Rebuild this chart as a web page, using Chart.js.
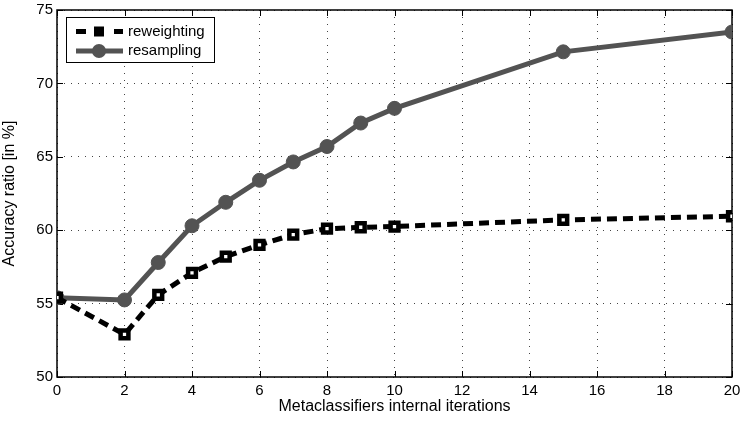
<!DOCTYPE html>
<html>
<head>
<meta charset="utf-8">
<script src="https://cdn.jsdelivr.net/npm/chart.js@4.4.1/dist/chart.umd.min.js"></script>
<style>
  html, body { margin: 0; padding: 0; background: #fff; }
  #wrap { width: 742px; height: 421px; }
</style>
</head>
<body>
<div id="wrap"><canvas id="c" width="742" height="421"></canvas></div>
<script>
const iterations = [0, 2, 3, 4, 5, 6, 7, 8, 9, 10, 15, 20];
const reweighting = [55.4, 52.9, 55.6, 57.1, 58.2, 59.0, 59.7, 60.1, 60.2, 60.25, 60.7, 60.95];
const resampling  = [55.4, 55.25, 57.8, 60.3, 61.9, 63.4, 64.65, 65.7, 67.3, 68.3, 72.15, 73.5];
const xTicks = [0, 2, 4, 6, 8, 10, 12, 14, 16, 18, 20];
const yTicks = [50, 55, 60, 65, 70, 75];
const seriesNames = ['reweighting', 'resampling'];
const xTitle = 'Metaclassifiers internal iterations';
const yTitle = 'Accuracy ratio [in %]';

const FONT = 'Liberation Sans, Arial, Helvetica, sans-serif';
const GREY = '#535353';

const boxPlugin = {
  id: 'box',
  beforeDatasetsDraw(chart) {
    const {ctx, chartArea: a, scales} = chart;
    ctx.save();
    ctx.strokeStyle = '#000';
    ctx.lineWidth = 1;
    ctx.beginPath();
    xTicks.forEach(v => {
      const px = Math.round(scales.x.getPixelForValue(v)) + 0.5;
      ctx.moveTo(px, a.bottom); ctx.lineTo(px, a.bottom - 6);
      ctx.moveTo(px, a.top); ctx.lineTo(px, a.top + 6);
    });
    yTicks.forEach(v => {
      const py = Math.round(scales.y.getPixelForValue(v)) + 0.5;
      ctx.moveTo(a.left, py); ctx.lineTo(a.left + 6, py);
      ctx.moveTo(a.right, py); ctx.lineTo(a.right - 6, py);
    });
    ctx.stroke();
    ctx.lineWidth = 1.5;
    ctx.strokeRect(a.left, a.top, a.right - a.left, a.bottom - a.top);
    ctx.restore();
  }
};

const legendPlugin = {
  id: 'matlabLegend',
  afterDraw(chart) {
    const ctx = chart.ctx;
    const x0 = 66, y0 = 17, w = 148, h = 45;
    ctx.save();
    ctx.fillStyle = '#fff';
    ctx.fillRect(x0, y0, w, h);
    ctx.strokeStyle = '#000';
    ctx.lineWidth = 1;
    ctx.strokeRect(x0 + 0.5, y0 + 0.5, w, h);
    let y = 31.5;
    ctx.strokeStyle = '#000';
    ctx.lineWidth = 5;
    ctx.beginPath();
    ctx.moveTo(76, y); ctx.lineTo(86, y);
    ctx.moveTo(114, y); ctx.lineTo(123, y);
    ctx.stroke();
    ctx.fillStyle = '#000';
    ctx.fillRect(94, y - 5, 10, 10);
    y = 51;
    ctx.strokeStyle = GREY;
    ctx.lineWidth = 5;
    ctx.beginPath();
    ctx.moveTo(76, y); ctx.lineTo(123, y);
    ctx.stroke();
    ctx.fillStyle = GREY;
    ctx.beginPath(); ctx.arc(99, y, 7, 0, Math.PI * 2); ctx.fill();
    ctx.fillStyle = '#000';
    ctx.font = '15px ' + FONT;
    ctx.textBaseline = 'middle';
    ctx.textAlign = 'left';
    ctx.fillText(seriesNames[0], 128, 32);
    ctx.fillText(seriesNames[1], 128, 51);
    ctx.restore();
  }
};

new Chart(document.getElementById('c'), {
  type: 'line',
  data: {
    datasets: [
      {
        label: seriesNames[0],
        data: iterations.map((x, i) => ({x, y: reweighting[i]})),
        borderColor: '#000',
        borderWidth: 5,
        borderDash: [10, 6],
        pointStyle: 'rect',
        pointRadius: 5.5,
        pointBackgroundColor: '#fff',
        pointBorderColor: '#000',
        pointBorderWidth: 4.5,
        tension: 0,
        order: 1
      },
      {
        label: seriesNames[1],
        data: iterations.map((x, i) => ({x, y: resampling[i]})),
        borderColor: GREY,
        borderWidth: 5,
        pointStyle: 'circle',
        pointRadius: 7,
        pointBackgroundColor: GREY,
        pointBorderColor: GREY,
        pointBorderWidth: 1,
        tension: 0,
        order: 2
      }
    ]
  },
  options: {
    responsive: false,
    animation: false,
    layout: { padding: { top: 10, right: 10, left: 0, bottom: 0 } },
    plugins: { legend: { display: false }, tooltip: { enabled: false } },
    scales: {
      x: {
        type: 'linear', min: 0, max: 20,
        afterFit(s) { s.height = 44; s.paddingRight = 0; s.paddingLeft = 0; },
        afterBuildTicks(s) { s.ticks = xTicks.map(v => ({value: v})); },
        ticks: { color: '#000', font: { family: FONT, size: 15 }, padding: 5, maxRotation: 0 },
        grid: { color: '#444', lineWidth: 1, drawTicks: false },
        border: { display: false, dash: [1, 6] },
        title: { display: true, text: xTitle, color: '#000', font: { family: FONT, size: 16 }, padding: { top: 0, bottom: 5 } }
      },
      y: {
        type: 'linear', min: 50, max: 75,
        afterFit(s) { s.width = 57; s.paddingTop = 0; s.paddingBottom = 0; },
        afterBuildTicks(s) { s.ticks = yTicks.map(v => ({value: v})); },
        ticks: { color: '#000', font: { family: FONT, size: 15 }, padding: 4 },
        grid: { color: '#444', lineWidth: 1, drawTicks: false },
        border: { display: false, dash: [1, 6] },
        title: { display: true, text: yTitle, color: '#000', font: { family: FONT, size: 16 }, padding: { top: 0, bottom: 2 } }
      }
    }
  },
  plugins: [boxPlugin, legendPlugin]
});
</script>
</body>
</html>
